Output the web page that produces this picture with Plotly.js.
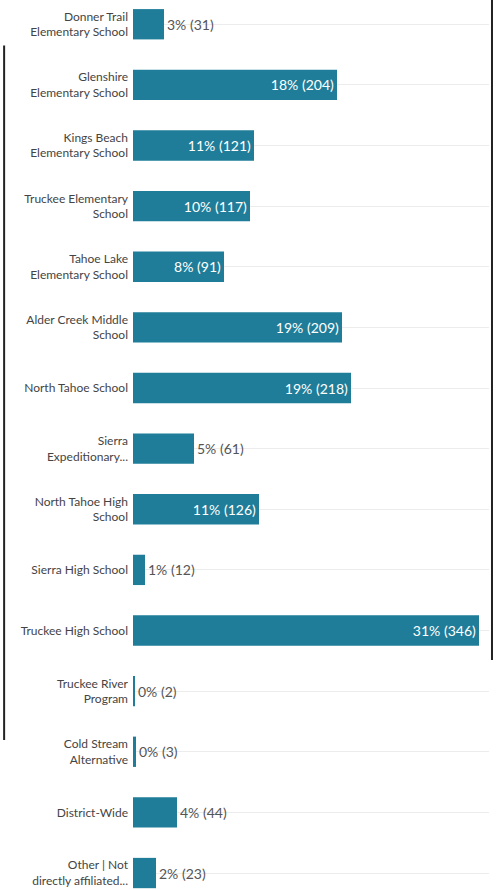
<!DOCTYPE html>
<html>
<head>
<meta charset="utf-8">
<script src="https://cdn.plot.ly/plotly-3.0.1.min.js"></script>
<style>
  html, body { margin: 0; padding: 0; background: #fff; }
  #chart { width: 497px; height: 890px; }
</style>
</head>
<body>
<div id="chart"></div>
<script>
const categories = [
  "Donner Trail<br>Elementary School",
  "Glenshire<br>Elementary School",
  "Kings Beach<br>Elementary School",
  "Truckee Elementary<br>School",
  "Tahoe Lake<br>Elementary School",
  "Alder Creek Middle<br>School",
  "North Tahoe School",
  "Sierra<br>Expeditionary...",
  "North Tahoe High<br>School",
  "Sierra High School",
  "Truckee High School",
  "Truckee River<br>Program",
  "Cold Stream<br>Alternative",
  "District-Wide",
  "Other | Not<br>directly affiliated..."
];
const counts = [31, 204, 121, 117, 91, 209, 218, 61, 126, 12, 346, 2, 3, 44, 23];
const percents = [3, 18, 11, 10, 8, 19, 19, 5, 11, 1, 31, 0, 0, 4, 2];
const labels = percents.map((p, i) => p + "% (" + counts[i] + ")");

const insideMin = 80;
const positions = counts.map(c => c >= insideMin ? "inside" : "outside");
const textColors = counts.map(c => c >= insideMin ? "#ffffff" : "#555555");

const trace = {
  type: "bar",
  orientation: "h",
  y: categories,
  x: counts,
  text: labels,
  textposition: positions,
  insidetextanchor: "end",
  textfont: { family: "Lato, 'Open Sans', sans-serif", size: 14, color: textColors },
  constraintext: "none",
  cliponaxis: false,
  marker: { color: "#1f7d99" },
  width: 0.5,
  hoverinfo: "none"
};

const layout = {
  width: 497,
  height: 890,
  margin: { l: 133, r: 8, t: 0, b: 0, pad: 0 },
  paper_bgcolor: "#ffffff",
  plot_bgcolor: "#ffffff",
  showlegend: false,
  font: { family: "Lato, 'Open Sans', sans-serif", color: "#444" },
  xaxis: {
    range: [0, 356],
    showgrid: false,
    zeroline: false,
    showticklabels: false,
    showline: false,
    fixedrange: true
  },
  yaxis: {
    type: "category",
    range: [14.28, -0.40],
    showgrid: true,
    gridcolor: "#ececec",
    gridwidth: 1,
    zeroline: false,
    showline: false,
    ticks: "",
    ticklabelstandoff: 4,
    tickfont: { family: "Lato, 'Open Sans', sans-serif", size: 12, color: "#444" },
    fixedrange: true
  },
  shapes: [
    { type: "line", xref: "paper", yref: "paper", x0: -0.362, x1: -0.362, y0: 0.949, y1: 0.1685,
      line: { color: "#222", width: 2 } },
    { type: "line", xref: "paper", yref: "paper", x0: 1.0084, x1: 1.0084, y0: 1, y1: 0.2584,
      line: { color: "#222", width: 2 } }
  ]
};

Plotly.newPlot("chart", [trace], layout, { displayModeBar: false, staticPlot: true });
</script>
</body>
</html>
